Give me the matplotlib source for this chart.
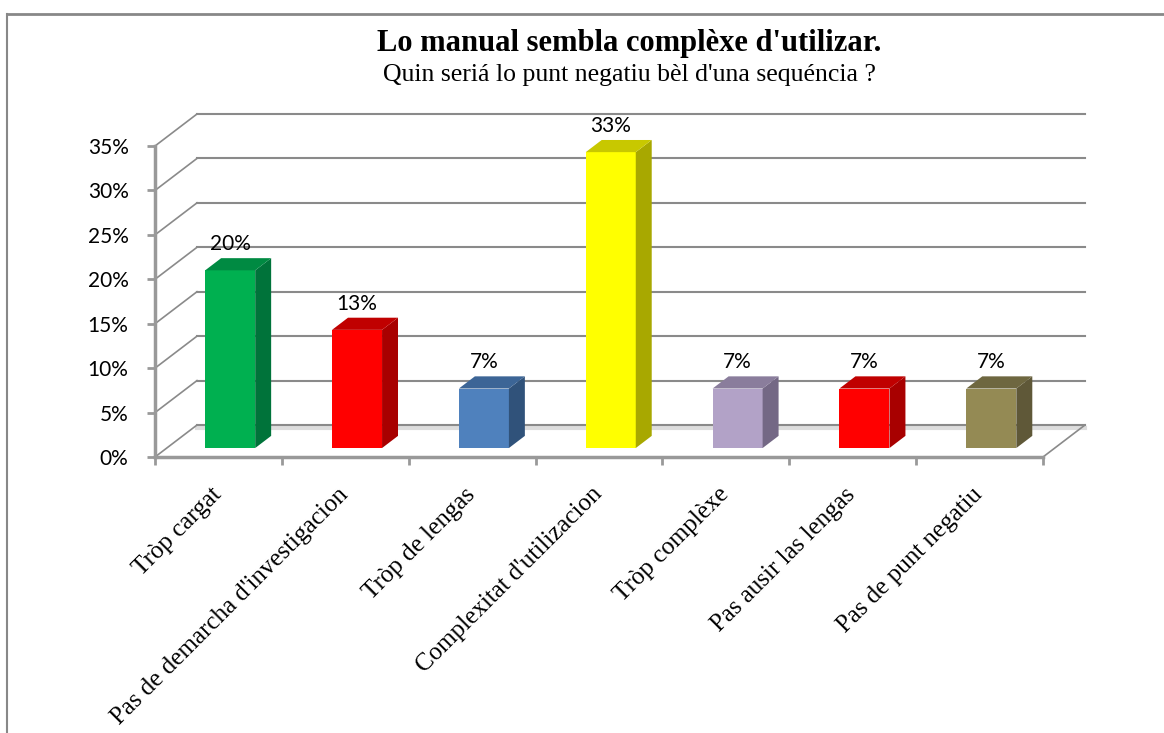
import matplotlib.pyplot as plt
from matplotlib.patches import Polygon
from matplotlib.lines import Line2D

# data (percent of answers)
categories = ["Tròp cargat", "Pas de demarcha d'investigacion", "Tròp de lengas",
              "Complexitat d'utilizacion", "Tròp complèxe", "Pas ausir las lengas",
              "Pas de punt negatiu"]
values = [20.0, 13.3, 6.7, 33.3, 6.7, 6.7, 6.7]
value_labels = ["20%", "13%", "7%", "33%", "7%", "7%", "7%"]
yticks = [0, 5, 10, 15, 20, 25, 30, 35]

# front / side / top colours of each bar
front_colors = ['#00B050', '#FF0000', '#4F81BD', '#FFFF00', '#B2A2C7', '#FF0000', '#948A54']
side_colors = ['#00733A', '#A80000', '#30527A', '#A8A800', '#746885', '#A80000', '#5F5838']
top_colors = ['#008A42', '#C00000', '#3C6596', '#C8C800', '#8A7D9C', '#C00000', '#6E6740']

W, H = 1164, 733
fig = plt.figure(figsize=(W / 100, H / 100), dpi=100)

# axes rectangle = front plane of the 3D box (0..7 categories, 0..35 %)
x0, x1 = 155, 1043
y0, y1 = 457, 146
ax = fig.add_axes([x0 / W, 1 - y0 / H, (x1 - x0) / W, (y0 - y1) / H])
ax.set_xlim(0, 7)
ax.set_ylim(0, 35)
px_x = 7 / (x1 - x0)
px_y = 35 / (y0 - y1)

DX = 42 * px_x      # depth of the box
DY = 32 * px_y
F0, F1 = 0.28, 0.66  # bar depth start/end as fraction of box depth
BAR_W = 50 * px_x

GRID = '#8a8a8a'
n = len(categories)

# walls: side diagonals + back gridlines
for t in yticks:
    ax.add_line(Line2D([0, DX], [t, t + DY], color=GRID, lw=1.2, clip_on=False, zorder=1))
    ax.add_line(Line2D([DX, n + DX], [t + DY, t + DY], color=GRID, lw=1.5, clip_on=False, zorder=1))
ax.add_line(Line2D([DX, n + DX], [DY - 3 * px_y, DY - 3 * px_y], color='#dddddd', lw=3,
                   clip_on=False, zorder=0.9))
ax.add_line(Line2D([n, n + DX], [0, DY], color=GRID, lw=1.2, clip_on=False, zorder=1))

# bars
for i, v in enumerate(values):
    left = i + 0.5 - BAR_W / 2 + F0 * DX
    base = F0 * DY
    ax.bar(left, v, width=BAR_W, bottom=base, align='edge', color=front_colors[i],
           zorder=3, clip_on=False)
    r = left + BAR_W
    ddx = (F1 - F0) * DX
    ddy = (F1 - F0) * DY
    side = [(r, base), (r + ddx, base + ddy), (r + ddx, base + v + ddy), (r, base + v)]
    top = [(left, base + v), (r, base + v), (r + ddx, base + v + ddy), (left + ddx, base + v + ddy)]
    ax.add_patch(Polygon(side, closed=True, facecolor=side_colors[i], edgecolor='none',
                         zorder=3, clip_on=False))
    ax.add_patch(Polygon(top, closed=True, facecolor=top_colors[i], edgecolor='none',
                         zorder=3, clip_on=False))
    ax.text(left + BAR_W / 2, base + v + ddy + 4 * px_y, value_labels[i], ha='center',
            va='bottom', fontsize=15, family='Lato', color='black', zorder=4)

# axes lines and ticks
for s in ['top', 'right']:
    ax.spines[s].set_visible(False)
ax.spines['left'].set_color('#999999')
ax.spines['left'].set_linewidth(2.5)
ax.spines['bottom'].set_color('#999999')
ax.spines['bottom'].set_linewidth(2.5)
ax.patch.set_alpha(0)

ax.set_yticks(yticks)
ax.set_yticklabels([f'{t}%' for t in yticks], family='Lato', fontsize=15)
ax.set_xticks(range(n + 1))
ax.set_xticklabels([])
ax.tick_params(axis='both', color='#999999', width=2, length=6)
ax.tick_params(axis='y', pad=13)

for i, lab in enumerate(categories):
    ax.annotate(lab, xy=(i + 0.5, 0), xytext=(-6, -19), textcoords='offset points',
                rotation=45, ha='right', va='top', rotation_mode='anchor',
                family='Liberation Serif', fontsize=18)

# titles
fig.text(629 / W, 1 - 43 / H, "Lo manual sembla complèxe d'utilizar.", ha='center', va='center',
         family='Liberation Serif', fontweight='bold', fontsize=22)
fig.text(629 / W, 1 - 75 / H, "Quin seriá lo punt negatiu bèl d'una sequéncia ?", ha='center',
         va='center', family='Liberation Serif', fontsize=18.5)

# chart frame (only top and left edges are visible in the crop)
fig.add_artist(Line2D([7 / W, 7 / W], [0, 1 - 14 / H], color='#888888', lw=1.5,
                      transform=fig.transFigure))
fig.add_artist(Line2D([7 / W, 1], [1 - 14 / H, 1 - 14 / H], color='#888888', lw=2,
                      transform=fig.transFigure))

fig.savefig('out.png', dpi=100, facecolor='white')
